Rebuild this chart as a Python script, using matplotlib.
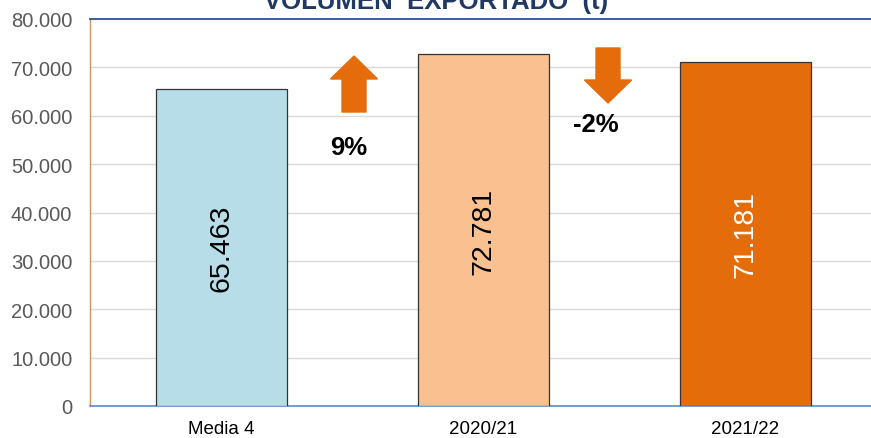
import matplotlib.pyplot as plt
from matplotlib.patches import FancyArrow

# datos
categorias = ['Media 4', '2020/21', '2021/22']
volumen = [65463, 72781, 71181]
etiquetas = ['65.463', '72.781', '71.181']
colores = ['#B7DEE8', '#FAC090', '#E46C0A']
color_etiqueta = ['black', 'black', 'white']
variaciones = ['9%', '-2%']
yticks = [0, 10000, 20000, 30000, 40000, 50000, 60000, 70000, 80000]
ytick_labels = ['0', '10.000', '20.000', '30.000', '40.000', '50.000',
                '60.000', '70.000', '80.000']

plt.rcParams['font.family'] = ['Liberation Sans', 'DejaVu Sans']

fig = plt.figure(figsize=(8.71, 4.39), dpi=100)
ax = fig.add_axes([90 / 871, 1 - 407 / 439, 786 / 871, 387 / 439])

x = range(len(categorias))
ax.bar(x, volumen, width=0.5, color=colores, edgecolor='#333333',
       linewidth=0.9, zorder=3)

# etiqueta en el centro de cada barra
for i, v in enumerate(volumen):
    ax.text(i, v / 2, etiquetas[i], rotation=90, ha='center', va='center',
            fontsize=20.5, color=color_etiqueta[i], zorder=4)

ax.set_xlim(-0.5, 2.5)
ax.set_ylim(0, 80000)
ax.set_yticks(yticks)
ax.set_yticklabels(ytick_labels)
ax.set_xticks(list(x))
ax.set_xticklabels(categorias)
ax.tick_params(axis='y', length=0, labelsize=14.5, labelcolor='#595959', pad=12.7)
ax.tick_params(axis='x', length=0, labelsize=13.5, labelcolor='black', pad=10)

ax.yaxis.grid(True, color='#D9D9D9', linewidth=1, zorder=0)
ax.set_axisbelow(True)
ax.spines['right'].set_visible(False)
ax.spines['top'].set_color('#2F5597')
ax.spines['top'].set_linewidth(1.3)
ax.spines['left'].set_color('#C8926A')
ax.spines['left'].set_linewidth(1)
ax.spines['bottom'].set_color('#5B8BC8')
ax.spines['bottom'].set_linewidth(1.2)

# flechas de variacion (coordenadas en pixeles de la figura)
def flecha(x0, y0, dy):
    fx = x0 / 871
    fy = 1 - y0 / 439
    fig.patches.append(FancyArrow(fx, fy, 0, dy / 439, width=24 / 871,
                                  head_width=47 / 871, head_length=23 / 439,
                                  length_includes_head=True, color='#E46C0A',
                                  transform=fig.transFigure, figure=fig))

flecha(354, 113, 56)
flecha(608, 49, -55)

fig.text(349 / 871, 1 - 148 / 439, variaciones[0], ha='center', va='center',
         fontsize=18.5, fontweight='bold')
fig.text(596 / 871, 1 - 125 / 439, variaciones[1], ha='center', va='center',
         fontsize=18.5, fontweight='bold')

fig.text(436 / 871, 1 - 8.5 / 439, 'VOLUMEN  EXPORTADO  (t)', ha='center',
         va='baseline', fontsize=18.5, fontweight='bold', color='#1F3864')

fig.savefig('out.png', dpi=100)
